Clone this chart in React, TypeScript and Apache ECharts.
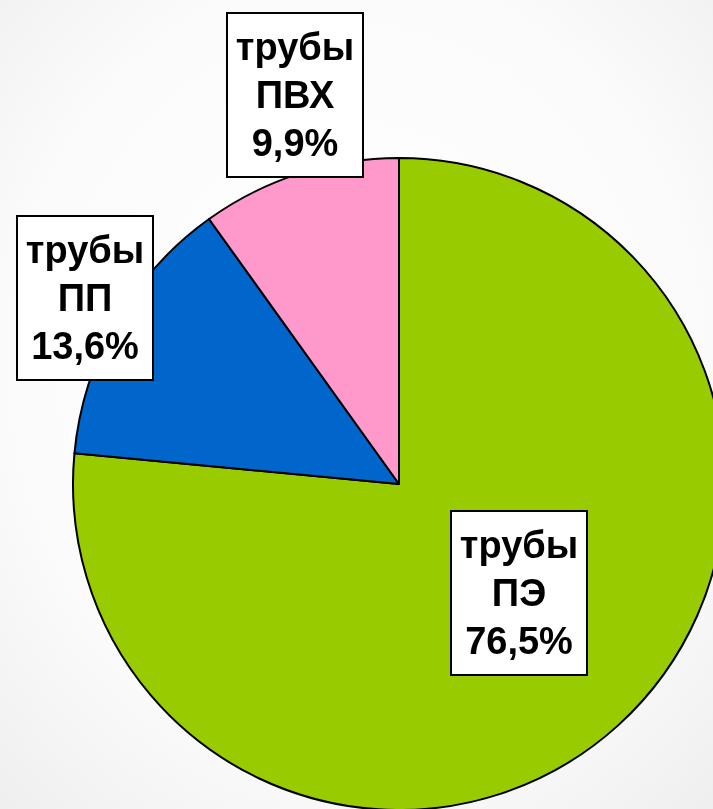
import React, { useEffect, useRef } from "react";
import * as echarts from "echarts";

const categories = ["трубы\nПЭ", "трубы\nПП", "трубы\nПВХ"];
const values = [76.5, 13.6, 9.9];
const colors = ["#99CC00", "#0066CC", "#FF99CC"];
// label box centers (layout only)
const labelCenters = [
  [519, 593],
  [85, 298],
  [295, 95],
];

export default function App() {
  const ref = useRef<HTMLDivElement>(null);
  useEffect(() => {
    if (!ref.current) return;
    const chart = echarts.init(ref.current, undefined, { renderer: "svg" });
    chart.setOption({
      animation: false,
      backgroundColor: {
        type: "radial",
        x: 0.5,
        y: 0.45,
        r: 0.8,
        colorStops: [
          { offset: 0, color: "#ffffff" },
          { offset: 0.6, color: "#fbfbfb" },
          { offset: 1, color: "#ececec" },
        ],
      },
      series: [
        {
          type: "pie",
          center: [399, 484],
          radius: 326,
          startAngle: 90,
          clockwise: true,
          silent: true,
          itemStyle: { borderColor: "#000", borderWidth: 2 },
          labelLine: { show: false },
          label: {
            show: true,
            position: "inside",
            formatter: (p: any) =>
              p.name + "\n" + Number(p.value).toFixed(1).replace(".", ",") + "%",
            fontFamily: "Liberation Sans, Arial, sans-serif",
            fontWeight: "bold",
            fontSize: 38,
            lineHeight: 48,
            color: "#000",
            backgroundColor: "#fff",
            borderColor: "#000",
            borderWidth: 2,
            padding: [9, 0, 9, 0],
            width: 134,
            align: "center",
            verticalAlign: "middle",
          },
          labelLayout: (params: any) => ({
            x: labelCenters[params.dataIndex][0],
            y: labelCenters[params.dataIndex][1],
            align: "center",
            verticalAlign: "middle",
          }),
          data: categories.map((c, i) => ({
            name: c,
            value: values[i],
            itemStyle: { color: colors[i] },
          })),
        },
      ],
    });
    return () => chart.dispose();
  }, []);
  return (
    <div
      ref={ref}
      style={{ position: "fixed", left: 0, top: 0, width: 713, height: 809 }}
    />
  );
}
